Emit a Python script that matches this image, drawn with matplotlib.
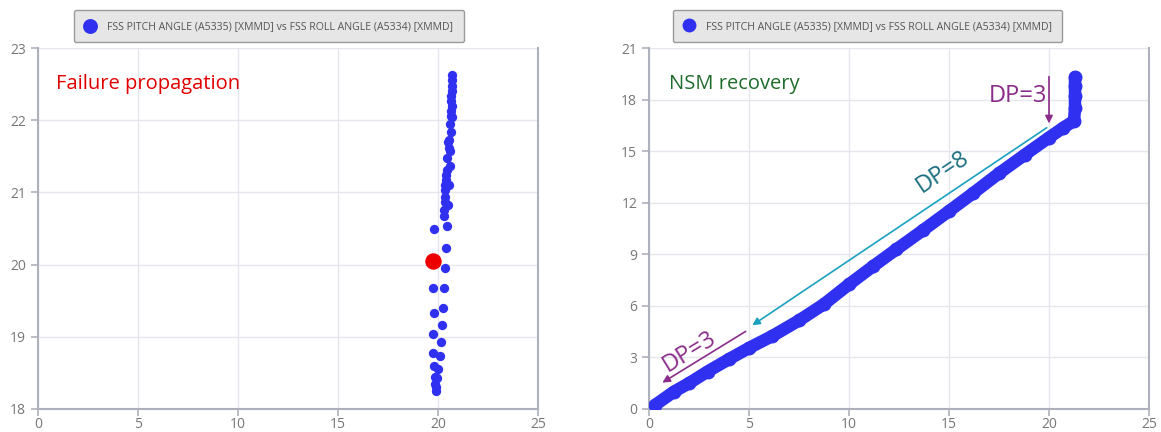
import matplotlib
matplotlib.use('Agg')
import matplotlib.pyplot as plt

plt.rcParams['font.family'] = ['Open Sans', 'DejaVu Sans']

# --- left panel: failure propagation (roll, pitch) ---
fail_x = [20.72, 20.72, 20.70, 20.68, 20.67, 20.65, 20.70, 20.63, 20.63, 20.68,
          20.60, 20.63, 20.55, 20.52, 20.53, 20.60, 20.47, 20.60, 20.43, 20.40,
          20.38, 20.37, 20.57, 20.35, 20.35, 20.33, 20.52, 20.32, 20.28,
          19.82, 20.47, 20.42, 20.37, 19.77, 20.32, 19.78, 20.23, 19.77, 20.18,
          20.13, 19.77, 20.08, 19.78, 20.02, 19.83, 19.97, 19.83, 19.88, 19.88]
fail_y = [22.62, 22.55, 22.48, 22.41, 22.34, 22.27, 22.20, 22.13, 22.06, 22.04,
          21.95, 21.84, 21.72, 21.70, 21.61, 21.58, 21.47, 21.36, 21.31, 21.24,
          21.17, 21.10, 21.10, 21.03, 20.94, 20.87, 20.82, 20.75, 20.68,
          20.49, 20.53, 20.23, 19.95, 19.68, 19.67, 19.33, 19.40, 19.04, 19.16,
          18.93, 18.77, 18.74, 18.59, 18.56, 18.44, 18.43, 18.35, 18.30, 18.25]
fail_pt = (19.75, 20.05)

# --- right panel: NSM recovery ---
rec_x = [0.30, 1.25, 2.00, 2.93, 4.00, 5.00, 6.17, 7.50, 8.75, 10.0, 11.2,
         12.36, 13.7, 15.0, 16.2, 17.5, 18.8, 20.0, 20.7, 21.25,
         21.30, 21.30, 21.30, 21.30]
rec_y = [0.23, 1.01, 1.50, 2.18, 2.90, 3.55, 4.25, 5.15, 6.10, 7.25, 8.30,
         9.28, 10.4, 11.51, 12.55, 13.71, 14.80, 15.79, 16.35, 16.76,
         17.50, 18.20, 18.80, 19.30]

legend_label = 'FSS PITCH ANGLE (A5335) [XMMD] vs FSS ROLL ANGLE (A5334) [XMMD]'
blue = '#3030f0'
grid_c = '#e6e6ee'
spine_c = '#aeb0bc'
tick_c = '#777777'

fig = plt.figure(figsize=(11.61, 4.32), dpi=100)
ax1 = fig.add_axes([38 / 1161, 23 / 432, 500 / 1161, 361 / 432])
ax2 = fig.add_axes([649 / 1161, 23 / 432, 500 / 1161, 361 / 432])


def style(ax, ylim, yticks):
    ax.set_xlim(0, 25)
    ax.set_ylim(*ylim)
    ax.set_xticks([0, 5, 10, 15, 20, 25])
    ax.set_yticks(yticks)
    ax.grid(True, color=grid_c, lw=1)
    ax.set_axisbelow(True)
    ax.spines['top'].set_visible(False)
    for s in ['left', 'bottom', 'right']:
        ax.spines[s].set_color(spine_c)
        ax.spines[s].set_linewidth(1.5)
    ax.tick_params(colors=spine_c, labelcolor=tick_c, labelsize=10, length=5, width=1.2)
    ax.tick_params(axis='x', pad=1)


style(ax1, (18, 23), [18, 19, 20, 21, 22, 23])
style(ax2, (0, 21), [0, 3, 6, 9, 12, 15, 18, 21])

ax1.scatter(fail_x, fail_y, s=45, color=blue, lw=0, label=legend_label, zorder=3)
ax1.scatter([fail_pt[0]], [fail_pt[1]], s=140, color='#ee0000', lw=0, zorder=4)
ax1.text(0.035, 0.9, 'Failure propagation', transform=ax1.transAxes, color='#e00000',
         fontsize=14.5, va='center', ha='left')

ax2.plot(rec_x, rec_y, '-o', color=blue, lw=9, ms=9, solid_capstyle='round',
         label=legend_label, zorder=3)
ax2.text(0.04, 0.9, 'NSM recovery', transform=ax2.transAxes, color='#1e6b2a',
         fontsize=14.5, va='center', ha='left')

purple = '#8a2c8a'
cyan = '#1aa0c0'
ax2.annotate('', xy=(20, 16.45), xytext=(20, 19.5),
             arrowprops=dict(arrowstyle='-|>', color=purple, lw=1.2, mutation_scale=11))
ax2.text(18.45, 18.2, 'DP=3', color=purple, fontsize=17, ha='center', va='center')
ax2.annotate('', xy=(5.05, 4.78), xytext=(20, 16.45),
             arrowprops=dict(arrowstyle='-|>', color=cyan, lw=1.2, mutation_scale=11))
ax2.text(14.7, 13.8, 'DP=8', color='#1a6f80', fontsize=17, ha='center', va='center',
         rotation=33.6)
ax2.annotate('', xy=(0.55, 1.45), xytext=(4.95, 4.6),
             arrowprops=dict(arrowstyle='-|>', color=purple, lw=1.2, mutation_scale=11))
ax2.text(2.05, 3.35, 'DP=3', color=purple, fontsize=17, ha='center', va='center',
         rotation=31.5)

for ax, anchor in [(ax1, (0.462, 1.01)), (ax2, (0.437, 1.01))]:
    leg = ax.legend(loc='lower center', bbox_to_anchor=anchor, fontsize=7.6,
                    frameon=True, fancybox=True, markerscale=1.6, handletextpad=1.1,
                    borderpad=1.0, handlelength=1.0, borderaxespad=0.2)
    fr = leg.get_frame()
    fr.set_facecolor('#e6e6e6')
    fr.set_edgecolor('#9a9a9a')
    fr.set_alpha(1)
    for t in leg.get_texts():
        t.set_color('#555555')
    # show only a marker in the legend handle
    for h in leg.legend_handles:
        if hasattr(h, 'set_markersize'):
            h.set_linestyle('none')
            h.set_markersize(9)

fig.savefig('out.png', dpi=100)
